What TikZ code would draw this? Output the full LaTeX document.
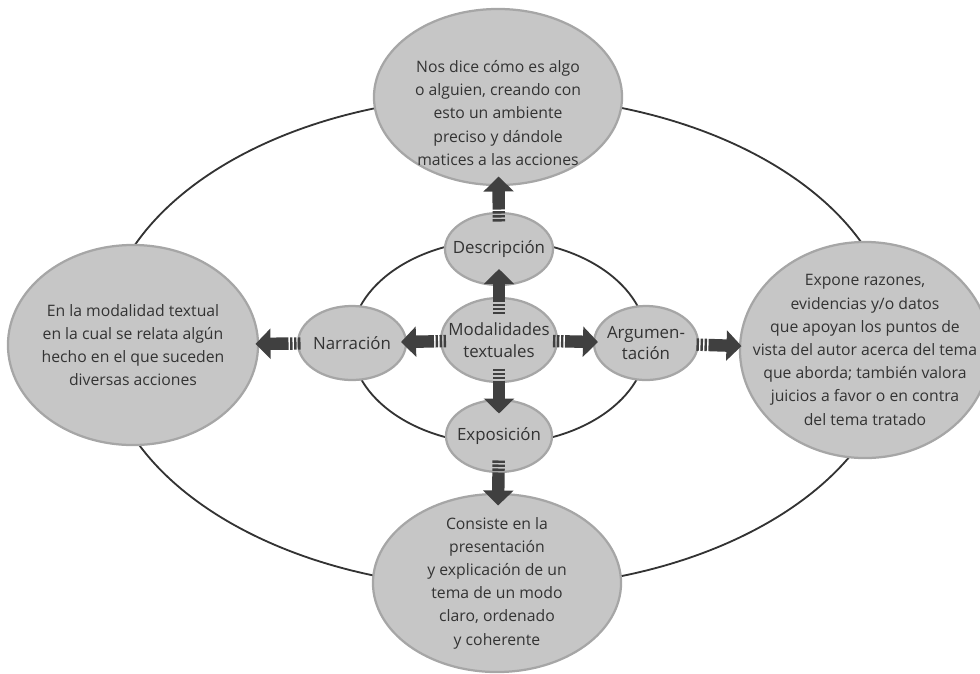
\documentclass[tikz,border=0pt]{standalone}
\usepackage{fontspec}
\setmainfont{Open Sans}
\usetikzlibrary{shapes.geometric,arrows.meta,calc}
\definecolor{bubblefill}{HTML}{C6C6C6}
\definecolor{bubbleedge}{HTML}{A6A6A6}
\definecolor{arrowgray}{HTML}{404040}
\definecolor{textgray}{HTML}{333333}
\newcommand{\linkarrow}[2]{%
  \path (#1) -- (#2) coordinate[midway] (#1-#2);
  \draw[blockarrow] ($(#1-#2)!0.5625cm!(#1)$) -- ($(#1-#2)!0.5625cm!(#2)$);}

\begin{document}
\begin{tikzpicture}[x=0.025cm, y=-0.025cm,
  bubble/.style={ellipse, draw=bubbleedge, line width=1.6pt, fill=bubblefill, inner sep=0pt},
  txt/.style={align=center, text=textgray, font=\fontsize{11.2}{16.5}\selectfont},
  smalltxt/.style={align=center, text=textgray, font=\fontsize{12}{15.5}\selectfont},
  orbit/.style={draw=black!80, line width=1.3pt},
  blockarrow/.style={draw=arrowgray, line width=0.31cm,
    -{Triangle[length=0.375cm,width=0.74cm]},
    dash pattern=on 0.06cm off 0.04cm on 0.06cm off 0.04cm on 0.06cm off 0.04cm on 5cm off 1cm}]
  \useasboundingbox (0,0) rectangle (980,673);
  \clip (0,0) rectangle (980,673);
  \coordinate (hub) at (499,342);
  \draw[orbit] (hub) ellipse [x radius=9.9cm, y radius=6.15cm];
  \draw[orbit] (hub) ellipse [x radius=3.7cm, y radius=2.55cm];

  \node[bubble, minimum width=6.2cm, minimum height=4.4cm,
    label={[txt, yshift=-0.4cm]center:Nos dice cómo es algo\\o alguien, creando con\\esto un ambiente\\preciso y dándole\\matices a las acciones}] (descinfo) at (498,97) {};
  \node[bubble, minimum width=6.25cm, minimum height=5cm,
    label={[txt]center:En la modalidad textual\\en la cual se relata algún\\hecho en el que suceden\\diversas acciones}] (narrinfo) at (133,345) {};
  \node[bubble, minimum width=6.25cm, minimum height=5.4cm,
    label={[txt]center:Expone razones,\\evidencias y/o datos\\que apoyan los puntos de\\vista del autor acerca del tema\\que aborda; también valora\\juicios a favor o en contra\\del tema tratado}] (arginfo) at (865,350) {};
  \node[bubble, minimum width=6.2cm, minimum height=4.45cm,
    label={[txt]center:Consiste en la\\presentación\\y explicación de un\\tema de un modo\\claro, ordenado\\y coherente}] (expoinfo) at (497,583) {};

  \node[bubble, minimum width=2.7cm, minimum height=1.8cm, label={[smalltxt]center:Descripción}] (desc) at (499,249) {};
  \node[bubble, minimum width=2.7cm, minimum height=1.85cm, label={[smalltxt]center:Narración}] (narr) at (352,343) {};
  \node[bubble, minimum width=2.9cm, minimum height=2.1cm, label={[smalltxt]center:Modalidades\\textuales}] (mod) at (499,340) {};
  \node[bubble, minimum width=2.6cm, minimum height=1.85cm, label={[smalltxt]center:Argumen-\\tación}] (arg) at (646,343) {};
  \node[bubble, minimum width=2.65cm, minimum height=1.8cm, label={[smalltxt]center:Exposición}] (expo) at (499,436) {};

  \linkarrow{mod}{desc}
  \linkarrow{desc}{descinfo}
  \linkarrow{mod}{narr}
  \linkarrow{narr}{narrinfo}
  \linkarrow{mod}{arg}
  \linkarrow{arg}{arginfo}
  \linkarrow{mod}{expo}
  \linkarrow{expo}{expoinfo}
\end{tikzpicture}
\end{document}
